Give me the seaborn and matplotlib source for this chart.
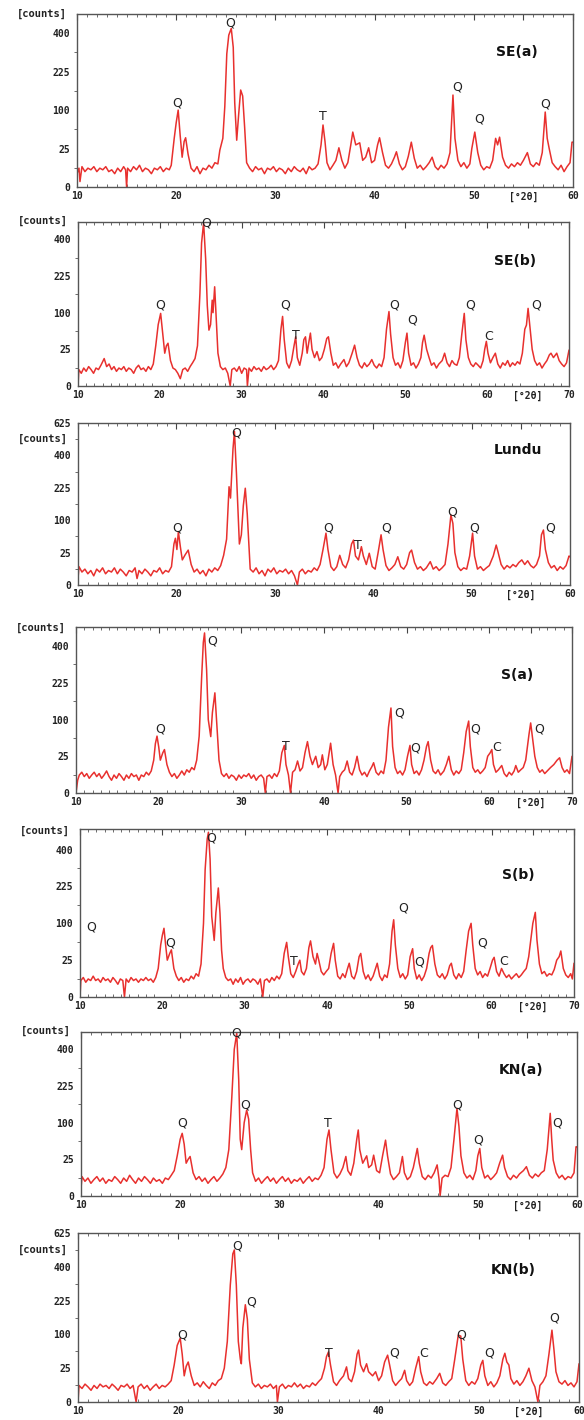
import numpy as np
import pandas as pd
import seaborn as sns
import matplotlib.pyplot as plt
import matplotlib.transforms as mtransforms

# XRD traces, (2theta, counts)
se_a = [(10.0,3),(10.2,6),(10.3,0.5),(10.5,7),(10.8,4),(11.1,6),(11.4,5),(11.7,7),(12.0,4),(12.3,6),(12.6,5),(12.9,7),
        (13.2,4),(13.5,5),(13.8,3),(14.1,6),(14.4,4),(14.7,7),(14.9,5),(15.0,0),(15.1,6),(15.4,4),(15.7,7),(16.0,5),
        (16.3,8),(16.6,4),(16.9,6),(17.2,5),(17.5,3),(17.8,6),(18.1,5),(18.4,7),(18.7,4),(19.0,6),(19.3,5),(19.5,8),
        (19.8,40),(20.0,70),(20.2,100),(20.4,45),(20.6,15),(20.8,35),(20.95,41),(21.2,18),(21.5,6),(21.8,4),(22.1,7),
        (22.4,3),(22.7,6),(23.0,5),(23.3,8),(23.6,6),(23.9,10),(24.2,9),(24.4,23),(24.7,40),(24.9,110),(25.1,300),
        (25.3,390),(25.55,425),(25.75,330),(25.9,120),(26.1,37),(26.3,90),(26.5,159),(26.7,140),(26.9,60),(27.1,10),
        (27.4,6),(27.7,4),(28.0,7),(28.3,5),(28.6,6),(28.9,3),(29.2,6),(29.5,5),(29.8,7),(30.1,4),(30.4,6),(30.7,5),
        (31.0,3),(31.3,6),(31.6,4),(31.9,7),(32.2,5),(32.5,4),(32.8,6),(33.1,3),(33.4,7),(33.7,5),(34.0,6),(34.3,9),
        (34.6,30),(34.8,65),(35.0,35),(35.2,10),(35.5,5),(35.8,8),(36.1,12),(36.4,26),(36.7,12),(37.0,6),(37.3,10),
        (37.6,30),(37.8,51),(38.1,30),(38.5,33),(38.8,12),(39.1,15),(39.4,26),(39.7,10),(40.0,12),(40.3,30),(40.5,41),
        (40.8,20),(41.1,8),(41.4,6),(41.7,9),(42.0,15),(42.2,21),(42.5,9),(42.8,5),(43.1,7),(43.4,16),(43.7,34),
        (44.0,14),(44.3,6),(44.6,8),(44.9,5),(45.2,7),(45.5,10),(45.8,15),(46.1,7),(46.4,5),(46.7,8),(47.0,6),(47.3,9),
        (47.6,20),(47.9,143),(48.1,40),(48.4,12),(48.7,7),(49.0,10),(49.3,6),(49.6,9),(49.8,25),(50.1,51),(50.4,20),
        (50.7,8),(51.0,5),(51.3,7),(51.6,6),(51.9,12),(52.2,40),(52.4,30),(52.6,42),(52.9,15),(53.2,8),(53.5,6),
        (53.8,9),(54.1,7),(54.4,10),(54.7,8),(55.0,12),(55.4,20),(55.7,9),(56.0,7),(56.3,10),(56.6,8),(56.9,20),
        (57.2,95),(57.4,40),(57.6,25),(57.9,10),(58.2,7),(58.5,5),(58.8,8),(59.1,4),(59.4,7),(59.7,10),(59.9,34),(60.0,34)]

se_b = [(10.0,0),(10.1,5),(10.4,3),(10.7,6),(11.0,4),(11.3,7),(11.6,5),(11.9,3),(12.2,6),(12.5,5),(12.8,8),(13.2,14),
        (13.5,7),(13.8,9),(14.1,5),(14.4,7),(14.7,4),(15.0,6),(15.3,5),(15.6,7),(15.9,4),(16.2,6),(16.5,5),(16.8,3),
        (17.1,6),(17.4,8),(17.7,5),(18.0,6),(18.3,4),(18.6,7),(18.9,5),(19.2,9),(19.5,30),(19.8,70),(20.1,98),(20.3,60),
        (20.6,20),(20.8,30),(21.0,34),(21.3,12),(21.6,6),(21.9,5),(22.2,3),(22.5,1),(22.8,5),(23.1,6),(23.4,4),(23.7,7),
        (24.0,10),(24.3,14),(24.6,30),(24.9,160),(25.1,380),(25.35,495),(25.6,300),(25.8,120),(26.0,58),(26.2,70),
        (26.4,137),(26.5,100),(26.7,183),(26.9,80),(27.1,20),(27.4,7),(27.7,5),(28.0,6),(28.3,3),(28.6,0),(28.8,5),
        (29.1,6),(29.4,4),(29.7,7),(30.0,3),(30.3,6),(30.6,5),(30.7,0),(30.9,6),(31.2,4),(31.5,7),(31.8,5),(32.1,6),
        (32.4,4),(32.7,7),(33.0,5),(33.3,6),(33.6,8),(33.9,5),(34.2,7),(34.5,12),(34.8,60),(35.0,90),(35.2,40),(35.5,10),
        (35.8,6),(36.1,12),(36.4,30),(36.6,45),(36.8,15),(37.1,8),(37.4,20),(37.6,40),(37.8,45),(38.0,20),(38.2,35),
        (38.4,52),(38.6,25),(38.9,15),(39.2,22),(39.5,12),(39.8,15),(40.1,25),(40.4,42),(40.6,45),(40.9,20),(41.2,8),
        (41.5,10),(41.8,6),(42.1,9),(42.5,13),(42.8,7),(43.1,10),(43.5,20),(43.8,31),(44.1,15),(44.4,8),(44.7,6),
        (45.0,10),(45.3,7),(45.6,9),(45.9,13),(46.2,8),(46.5,6),(46.8,9),(47.1,7),(47.4,15),(47.7,60),(48.0,103),
        (48.2,50),(48.5,15),(48.8,8),(49.1,10),(49.4,6),(49.7,12),(50.0,35),(50.2,52),(50.4,20),(50.7,8),(51.0,10),
        (51.3,6),(51.6,9),(51.9,15),(52.1,35),(52.3,48),(52.6,25),(52.9,15),(53.2,8),(53.5,10),(53.8,6),(54.1,9),
        (54.5,12),(54.8,20),(55.1,10),(55.4,7),(55.7,12),(56.0,9),(56.3,8),(56.6,15),(56.9,50),(57.2,98),(57.4,40),
        (57.7,15),(58.0,9),(58.3,7),(58.6,10),(58.9,8),(59.2,6),(59.5,12),(59.7,25),(59.9,37),(60.1,20),(60.4,10),
        (60.7,15),(61.0,20),(61.3,9),(61.6,6),(61.9,10),(62.2,8),(62.5,12),(62.8,7),(63.1,10),(63.4,8),(63.7,11),
        (64.0,9),(64.3,20),(64.6,60),(64.8,69),(65.0,112),(65.2,70),(65.5,25),(65.8,12),(66.1,8),(66.4,10),(66.7,6),
        (67.0,9),(67.3,12),(67.6,18),(67.8,20),(68.1,15),(68.5,20),(68.8,12),(69.1,9),(69.4,7),(69.7,10),(70.0,24)]

lundu = [(10.0,1),(10.1,8),(10.4,4),(10.7,6),(11.0,3),(11.3,5),(11.6,2),(11.9,6),(12.2,4),(12.5,7),(12.8,3),(13.1,5),
         (13.4,4),(13.7,7),(14.0,3),(14.3,6),(14.6,4),(14.9,2),(15.2,5),(15.5,4),(15.8,7),(16.0,1),(16.2,5),(16.5,3),
         (16.8,6),(17.1,4),(17.4,2),(17.7,5),(18.0,4),(18.3,7),(18.6,3),(18.9,5),(19.2,4),(19.5,8),(19.75,40),(19.9,52),
         (20.05,30),(20.2,68),(20.4,35),(20.6,15),(20.9,22),(21.2,29),(21.5,10),(21.8,4),(22.1,6),(22.4,3),(22.7,5),
         (23.0,2),(23.3,6),(23.6,4),(23.9,7),(24.2,5),(24.5,9),(24.8,21),(25.1,50),(25.35,230),(25.5,180),(25.75,440),
         (25.9,562),(26.1,300),(26.3,100),(26.4,40),(26.6,60),(26.8,150),(27.0,223),(27.2,120),(27.5,6),(27.8,4),
         (28.1,7),(28.4,3),(28.7,5),(29.0,2),(29.3,6),(29.6,4),(29.9,7),(30.2,3),(30.5,5),(30.8,4),(31.1,6),(31.4,3),
         (31.7,5),(32.0,2),(32.3,0),(32.5,4),(32.8,6),(33.1,3),(33.4,5),(33.7,4),(34.0,7),(34.3,5),(34.6,10),(34.9,30),
         (35.2,64),(35.4,30),(35.7,8),(36.0,5),(36.3,8),(36.6,21),(36.9,10),(37.2,7),(37.5,15),(37.8,40),(38.0,48),
         (38.2,20),(38.5,15),(38.8,35),(39.0,20),(39.3,10),(39.6,24),(39.9,8),(40.2,6),(40.5,25),(40.8,60),(41.0,30),
         (41.3,9),(41.6,5),(41.9,7),(42.2,10),(42.5,19),(42.8,8),(43.1,6),(43.4,10),(43.7,25),(43.9,29),(44.2,12),
         (44.5,6),(44.8,8),(45.1,5),(45.4,7),(45.8,13),(46.1,6),(46.4,8),(46.7,5),(47.0,7),(47.3,10),(47.6,40),
         (47.9,117),(48.1,90),(48.3,25),(48.6,8),(48.9,5),(49.2,7),(49.5,6),(49.8,20),(50.1,64),(50.3,20),(50.6,6),
         (50.9,8),(51.2,5),(51.5,7),(51.8,9),(52.2,20),(52.5,38),(52.7,25),(53.0,10),(53.3,6),(53.6,9),(53.9,7),
         (54.2,10),(54.5,8),(54.8,12),(55.1,15),(55.4,10),(55.7,14),(56.0,9),(56.3,7),(56.6,10),(56.9,20),(57.1,60),
         (57.3,72),(57.5,30),(57.8,12),(58.1,7),(58.4,9),(58.7,5),(59.0,8),(59.3,6),(59.6,9),(59.9,20),(60.0,19)]

s_a = [(10.0,0),(10.2,3),(10.4,6),(10.7,8),(11.0,5),(11.3,7),(11.6,4),(11.9,6),(12.2,8),(12.5,5),(12.8,7),(13.1,4),
       (13.4,6),(13.7,9),(14.0,5),(14.3,3),(14.6,6),(14.9,4),(15.2,7),(15.5,5),(15.8,3),(16.1,6),(16.4,4),(16.7,7),
       (17.0,5),(17.3,6),(17.6,3),(17.9,6),(18.2,5),(18.5,8),(18.8,6),(19.1,9),(19.4,20),(19.6,45),(19.8,60),(20.0,40),
       (20.2,20),(20.5,30),(20.7,35),(21.0,15),(21.3,8),(21.6,5),(21.9,7),(22.2,4),(22.5,6),(22.8,9),(23.1,6),(23.4,10),
       (23.7,8),(24.0,12),(24.3,10),(24.6,20),(24.9,60),(25.2,250),(25.4,420),(25.55,475),(25.8,280),(26.0,100),
       (26.3,59),(26.5,120),(26.8,186),(27.0,100),(27.3,20),(27.6,7),(27.9,5),(28.2,7),(28.5,4),(28.8,6),(29.1,5),
       (29.4,3),(29.7,6),(30.0,4),(30.3,6),(30.6,5),(30.9,7),(31.2,4),(31.5,6),(31.8,3),(32.1,5),(32.4,6),(32.7,4),
       (32.9,0),(33.1,5),(33.4,6),(33.7,4),(34.0,7),(34.3,5),(34.6,9),(34.9,30),(35.2,42),(35.4,15),(35.7,6),(35.95,0),
       (36.2,8),(36.5,10),(36.8,19),(37.1,9),(37.4,12),(37.7,30),(38.0,49),(38.3,25),(38.6,15),(39.0,25),(39.3,12),
       (39.6,15),(39.8,27),(40.1,10),(40.4,15),(40.8,46),(41.1,15),(41.4,6),(41.7,0),(41.9,5),(42.2,8),(42.5,10),
       (42.8,19),(43.1,8),(43.4,6),(43.7,12),(44.0,25),(44.3,10),(44.6,6),(44.9,8),(45.2,5),(45.5,9),(45.8,13),
       (46.0,17),(46.3,8),(46.6,6),(46.9,9),(47.2,7),(47.5,20),(47.8,80),(48.1,134),(48.3,40),(48.6,12),(48.9,7),
       (49.2,9),(49.5,6),(49.8,10),(50.1,25),(50.4,42),(50.6,15),(50.9,7),(51.2,9),(51.5,6),(51.8,10),(52.1,20),
       (52.4,40),(52.6,49),(52.9,20),(53.2,9),(53.5,7),(53.8,10),(54.1,6),(54.5,9),(54.8,15),(55.1,25),(55.4,10),
       (55.7,6),(56.0,9),(56.3,7),(56.6,10),(56.9,30),(57.2,70),(57.5,96),(57.7,40),(58.0,12),(58.3,8),(58.6,10),
       (58.9,7),(59.2,9),(59.5,12),(59.8,25),(60.1,30),(60.3,35),(60.5,15),(60.8,8),(61.1,10),(61.5,14),(61.8,7),
       (62.1,5),(62.4,8),(62.7,6),(63.0,9),(63.2,14),(63.5,8),(63.8,10),(64.1,12),(64.4,20),(64.7,50),(64.8,64),
       (65.0,91),(65.2,60),(65.5,25),(65.8,12),(66.1,8),(66.4,10),(66.7,7),(67.0,9),(67.4,12),(67.8,15),(68.2,20),
       (68.5,23),(68.8,12),(69.1,8),(69.4,10),(69.7,7),(70.0,25)]

s_b = [(10.0,0),(10.1,5),(10.4,7),(10.7,4),(11.0,6),(11.3,5),(11.6,8),(11.9,5),(12.2,6),(12.5,4),(12.8,7),(13.1,5),
       (13.4,6),(13.7,4),(14.0,7),(14.3,5),(14.6,3),(14.9,6),(15.2,5),(15.4,0),(15.6,6),(15.9,4),(16.2,7),(16.5,5),
       (16.8,6),(17.1,4),(17.4,6),(17.7,5),(18.0,7),(18.3,5),(18.6,6),(18.9,4),(19.2,7),(19.5,15),(19.8,50),(20.0,70),
       (20.2,87),(20.4,50),(20.6,25),(20.9,35),(21.1,41),(21.4,15),(21.7,8),(22.0,5),(22.3,7),(22.6,4),(22.9,6),
       (23.2,5),(23.5,8),(23.8,6),(24.1,10),(24.4,8),(24.7,20),(25.0,100),(25.2,300),(25.45,460),(25.6,500),(25.8,350),
       (26.0,120),(26.3,59),(26.5,130),(26.8,219),(27.0,130),(27.2,40),(27.4,15),(27.7,7),(28.0,5),(28.3,6),(28.6,3),
       (28.9,6),(29.2,4),(29.5,7),(29.8,3),(30.1,5),(30.4,6),(30.7,4),(31.0,6),(31.3,5),(31.6,3),(31.9,6),(32.2,0),
       (32.4,5),(32.7,6),(33.0,4),(33.3,7),(33.6,5),(33.9,8),(34.2,6),(34.5,10),(34.8,35),(35.1,55),(35.3,30),(35.6,10),
       (35.9,7),(36.2,12),(36.5,20),(36.7,25),(36.9,12),(37.2,9),(37.5,15),(37.8,45),(38.0,58),(38.3,30),(38.6,20),
       (38.8,35),(39.0,25),(39.3,12),(39.6,9),(39.9,12),(40.2,15),(40.5,35),(40.8,53),(41.0,25),(41.3,8),(41.6,6),
       (41.9,10),(42.2,7),(42.5,15),(42.7,21),(43.0,8),(43.3,6),(43.6,12),(43.9,30),(44.1,35),(44.4,12),(44.7,6),
       (45.0,9),(45.3,5),(45.6,8),(45.9,15),(46.1,21),(46.4,8),(46.7,5),(47.0,9),(47.3,7),(47.6,20),(47.9,80),
       (48.1,110),(48.3,50),(48.6,15),(48.9,7),(49.2,10),(49.5,6),(49.8,9),(50.1,30),(50.4,43),(50.6,15),(50.9,6),
       (51.2,9),(51.5,5),(51.8,8),(52.1,15),(52.4,35),(52.6,45),(52.8,49),(53.1,20),(53.4,9),(53.7,7),(54.0,10),
       (54.3,6),(54.6,9),(54.9,18),(55.1,21),(55.4,9),(55.7,6),(56.0,10),(56.3,7),(56.6,12),(56.9,40),(57.2,80),
       (57.5,100),(57.7,50),(58.0,15),(58.3,9),(58.6,12),(58.9,7),(59.2,10),(59.5,8),(59.8,15),(60.1,25),(60.3,29),
       (60.6,12),(60.9,8),(61.2,15),(61.5,10),(61.8,7),(62.1,9),(62.4,6),(62.7,8),(63.0,10),(63.3,7),(63.6,9),
       (63.9,12),(64.2,15),(64.5,30),(64.8,66),(65.0,100),(65.3,132),(65.5,60),(65.8,20),(66.1,10),(66.4,12),
       (66.7,8),(67.0,10),(67.3,9),(67.6,14),(67.9,25),(68.2,30),(68.4,39),(68.7,15),(69.0,9),(69.3,7),(69.6,10),
       (69.8,6),(70.0,21)]

kn_a = [(10.0,1),(10.1,7),(10.4,4),(10.7,6),(11.0,3),(11.3,5),(11.6,7),(11.9,4),(12.2,6),(12.5,3),(12.8,5),(13.1,4),
        (13.4,7),(13.7,5),(14.0,3),(14.3,6),(14.6,4),(14.9,8),(15.2,5),(15.5,3),(15.8,6),(16.1,4),(16.4,7),(16.7,5),
        (17.0,3),(17.3,6),(17.6,4),(17.9,5),(18.2,3),(18.5,6),(18.8,5),(19.1,8),(19.4,12),(19.7,30),(20.0,60),(20.2,73),
        (20.4,50),(20.6,20),(20.8,25),(21.0,29),(21.3,10),(21.6,5),(21.9,7),(22.2,4),(22.5,6),(22.8,3),(23.1,5),(23.4,7),
        (23.7,4),(24.0,6),(24.3,9),(24.6,15),(24.9,40),(25.2,180),(25.45,400),(25.7,493),(25.9,250),(26.05,60),
        (26.2,40),(26.45,100),(26.7,137),(26.9,110),(27.1,40),(27.3,10),(27.6,4),(27.9,6),(28.2,3),(28.5,5),(28.8,7),
        (29.1,4),(29.4,6),(29.7,3),(30.0,5),(30.3,7),(30.6,4),(30.9,6),(31.2,3),(31.5,5),(31.8,4),(32.1,6),(32.4,3),
        (32.7,5),(33.0,7),(33.3,4),(33.6,6),(33.9,5),(34.2,8),(34.5,15),(34.8,60),(35.0,81),(35.2,40),(35.5,10),
        (35.8,6),(36.1,9),(36.4,15),(36.7,29),(36.9,12),(37.2,8),(37.5,20),(37.8,60),(37.95,81),(38.1,40),(38.4,20),
        (38.8,30),(39.0,15),(39.3,18),(39.5,31),(39.8,12),(40.1,10),(40.4,30),(40.7,58),(40.9,30),(41.2,9),(41.5,5),
        (41.8,7),(42.1,10),(42.4,29),(42.6,10),(42.9,5),(43.2,7),(43.5,15),(43.9,42),(44.1,20),(44.4,7),(44.7,5),
        (45.0,8),(45.3,6),(45.6,10),(45.9,18),(46.1,5),(46.2,0),(46.4,6),(46.7,8),(47.0,7),(47.3,15),(47.6,60),
        (47.9,143),(48.1,90),(48.3,30),(48.6,10),(48.9,6),(49.2,8),(49.5,5),(49.8,12),(50.0,30),(50.2,42),(50.4,15),
        (50.7,6),(51.0,8),(51.3,5),(51.6,7),(51.9,10),(52.2,20),(52.5,31),(52.7,15),(53.0,7),(53.3,5),(53.6,8),
        (53.9,6),(54.2,9),(54.6,12),(54.9,16),(55.2,8),(55.5,6),(55.8,9),(56.1,7),(56.4,10),(56.7,12),(57.0,40),
        (57.3,127),(57.45,60),(57.6,24),(57.9,10),(58.2,6),(58.5,8),(58.8,5),(59.1,7),(59.4,6),(59.7,10),(59.9,45),
        (60.0,45)]

kn_b = [(10.0,0),(10.1,6),(10.4,4),(10.7,7),(11.0,5),(11.3,3),(11.6,6),(11.9,4),(12.2,7),(12.5,5),(12.8,6),(13.1,4),
        (13.4,7),(13.7,5),(14.0,3),(14.3,6),(14.6,5),(14.9,7),(15.2,4),(15.5,6),(15.8,0),(16.0,5),(16.3,7),(16.6,4),
        (16.9,6),(17.2,3),(17.5,5),(17.8,7),(18.1,4),(18.4,6),(18.7,5),(19.0,7),(19.3,10),(19.6,30),(19.9,70),(20.2,89),
        (20.4,50),(20.6,15),(20.8,28),(21.0,35),(21.3,15),(21.6,6),(21.9,8),(22.2,5),(22.5,9),(22.8,6),(23.1,4),(23.4,8),
        (23.7,6),(24.0,10),(24.3,12),(24.6,25),(24.9,80),(25.2,300),(25.45,480),(25.6,506),(25.8,300),(26.0,80),
        (26.2,40),(26.3,32),(26.45,120),(26.7,207),(26.9,150),(27.1,40),(27.4,8),(27.7,5),(28.0,7),(28.3,4),(28.6,6),
        (28.9,5),(29.2,7),(29.5,4),(29.8,6),(29.9,0),(30.1,5),(30.4,7),(30.7,4),(31.0,6),(31.3,5),(31.6,8),(31.9,5),
        (32.2,7),(32.5,4),(32.8,6),(33.1,5),(33.4,8),(33.7,6),(34.0,9),(34.3,12),(34.6,25),(34.8,45),(35.0,55),
        (35.2,30),(35.5,9),(35.8,6),(36.1,10),(36.5,15),(36.8,27),(37.0,12),(37.3,9),(37.6,20),(37.85,50),(38.0,59),
        (38.2,30),(38.5,20),(38.8,32),(39.0,20),(39.4,15),(39.7,20),(40.0,10),(40.3,15),(40.6,35),(40.9,48),(41.1,30),
        (41.4,10),(41.7,6),(42.0,9),(42.3,12),(42.6,22),(42.8,10),(43.1,6),(43.4,9),(43.7,25),(44.0,45),(44.2,20),
        (44.5,8),(44.8,6),(45.1,9),(45.4,7),(45.8,12),(46.1,18),(46.4,8),(46.7,6),(47.0,9),(47.3,12),(47.6,40),
        (47.95,98),(48.2,95),(48.4,40),(48.7,10),(49.0,6),(49.3,9),(49.6,7),(49.9,12),(50.2,30),(50.4,38),(50.6,15),
        (50.9,6),(51.2,9),(51.5,5),(51.8,8),(52.1,15),(52.4,40),(52.6,52),(52.8,35),(53.0,30),(53.2,12),(53.5,7),
        (53.8,10),(54.1,6),(54.4,9),(54.7,15),(55.0,25),(55.3,10),(55.6,5),(55.9,0),(56.1,6),(56.4,9),(56.7,15),
        (57.0,50),(57.3,113),(57.5,60),(57.7,20),(58.0,9),(58.3,7),(58.6,10),(58.9,6),(59.2,8),(59.5,5),(59.8,9),(60.0,32)]

# phase labels: (2theta, counts, letter)
se_a_marks = [(20.1,119,'Q'),(25.4,454,'Q'),(34.8,83,'T'),(48.3,169,'Q'),(50.5,78,'Q'),(57.2,116,'Q')]
se_b_marks = [(20.1,121,'Q'),(25.7,492,'Q'),(35.3,121,'Q'),(36.6,48,'T'),(48.6,121,'Q'),(50.8,81,'Q'),
              (57.9,121,'Q'),(60.2,45,'C'),(66.0,121,'Q')]
lundu_marks = [(20.05,77,'Q'),(26.1,551,'Q'),(35.4,77,'Q'),(38.4,38,'T'),(41.3,77,'Q'),(48.0,128,'Q'),
               (50.3,77,'Q'),(58.0,77,'Q')]
s_a_marks = [(20.2,75,'Q'),(26.5,428,'Q'),(35.4,40,'T'),(49.1,119,'Q'),(51.0,38,'Q'),(58.3,75,'Q'),
             (60.9,38,'C'),(66.0,75,'Q')]
s_b_marks = [(11.4,91,'Q'),(20.9,53,'Q'),(25.9,466,'Q'),(36.0,23,'T'),(49.2,145,'Q'),(51.2,23,'Q'),
             (58.9,53,'Q'),(61.4,23,'C')]
kn_a_marks = [(20.2,98,'Q'),(25.65,492,'Q'),(26.6,154,'Q'),(34.9,98,'T'),(47.9,154,'Q'),(50.05,58,'Q'),
              (58.0,98,'Q')]
kn_b_marks = [(20.4,98,'Q'),(25.9,530,'Q'),(27.3,221,'Q'),(35.0,52,'T'),(41.6,52,'Q'),(44.5,52,'C'),
              (48.2,98,'Q'),(51.0,52,'Q'),(57.5,153,'Q')]

names = ['SE(a)', 'SE(b)', 'Lundu', 'S(a)', 'S(b)', 'KN(a)', 'KN(b)']
traces = [se_a, se_b, lundu, s_a, s_b, kn_a, kn_b]
marks = [se_a_marks, se_b_marks, lundu_marks, s_a_marks, s_b_marks, kn_a_marks, kn_b_marks]
x_max = [60, 70, 60, 70, 70, 60, 60]
y_max = [506, 500, 625, 511, 520, 500, 625]

sns.set_theme(style='white')
plt.rcParams['font.family'] = ['DejaVu Sans']

W, H = 584, 1420
fig = plt.figure(figsize=(W / 100, H / 100), dpi=100)
fig.patch.set_facecolor('white')

# panel boxes in pixels: left, top, right, bottom
boxes = [(77, 14, 573, 187), (78, 222, 569, 386), (78, 423, 570, 585), (76, 627, 572, 793),
         (80, 829, 574, 997), (81, 1032, 577, 1196), (78, 1233, 579, 1402)]
name_pos = [(0.887, 0.78), (0.89, 0.76), (0.894, 0.835), (0.89, 0.713), (0.887, 0.727), (0.887, 0.767), (0.868, 0.78)]

mono = dict(family='DejaVu Sans Mono', weight='bold', size=7.5, color='#222222')
red = '#e8302e'

for i, (name, tr) in enumerate(zip(names, traces)):
    l, t, r, b = boxes[i]
    ax = fig.add_axes([l / W, 1 - b / H, (r - l) / W, (b - t) / H])
    df = pd.DataFrame(tr, columns=['two_theta', 'counts'])
    sns.lineplot(data=df, x='two_theta', y='counts', ax=ax, color=red, linewidth=1.1,
                 sort=False, estimator=None)
    ax.set_yscale('function', functions=(lambda v: np.sqrt(np.clip(v, 0, None)), np.square))
    ax.set_xlim(10, x_max[i])
    ax.set_ylim(0, y_max[i])
    ax.set_xlabel('')
    ax.set_ylabel('')

    yt = [0, 25, 100, 225, 400] + ([625] if y_max[i] >= 625 else [])
    ax.set_yticks(yt)
    ax.set_yticklabels([str(v) for v in yt])
    ax.set_yticks([6.25, 56.25, 156.25, 306.25] + ([506.25] if y_max[i] >= 625 else []), minor=True)

    xt = list(range(10, x_max[i] - 9, 10)) + [x_max[i] - 5, x_max[i]]
    ax.set_xticks(xt)
    ax.set_xticklabels([str(v) for v in xt[:-2]] + ['[°2θ]', str(x_max[i])])
    ax.set_xticks(np.arange(11, x_max[i], 1), minor=True)

    ax.tick_params(axis='x', which='major', direction='in', length=4, width=0.8, pad=6,
                   top=True, colors='#444444')
    ax.tick_params(axis='x', which='minor', direction='in', length=2, width=0.6, top=True, bottom=True,
                   colors='#555555')
    ax.tick_params(axis='y', which='major', direction='out', length=3, width=0.8, pad=2, colors='#444444')
    ax.tick_params(axis='y', which='minor', direction='out', length=2, width=0.6, left=True,
                   colors='#555555')
    for lab in ax.get_xticklabels() + ax.get_yticklabels():
        lab.set_fontfamily('DejaVu Sans Mono')
        lab.set_fontweight('bold')
        lab.set_fontsize(7)
        lab.set_color('#222222')
    for lab in ax.get_xticklabels():
        lab.set_verticalalignment('center_baseline')

    for sp in ax.spines.values():
        sp.set_color('#555555')
        sp.set_linewidth(1.0)

    trans = mtransforms.blended_transform_factory(ax.transAxes, ax.transData)
    ax.text(-0.02, 506, '[counts]', transform=trans, ha='right', va='center', **mono)

    for x, y, s in marks[i]:
        ax.text(x, y, s, ha='center', va='center', fontsize=9, color='#222222')

    ax.text(name_pos[i][0], name_pos[i][1], name, transform=ax.transAxes, ha='center', va='center',
            fontsize=10, fontweight='bold', color='#111111')

fig.savefig('out.png', dpi=100, facecolor='white')
